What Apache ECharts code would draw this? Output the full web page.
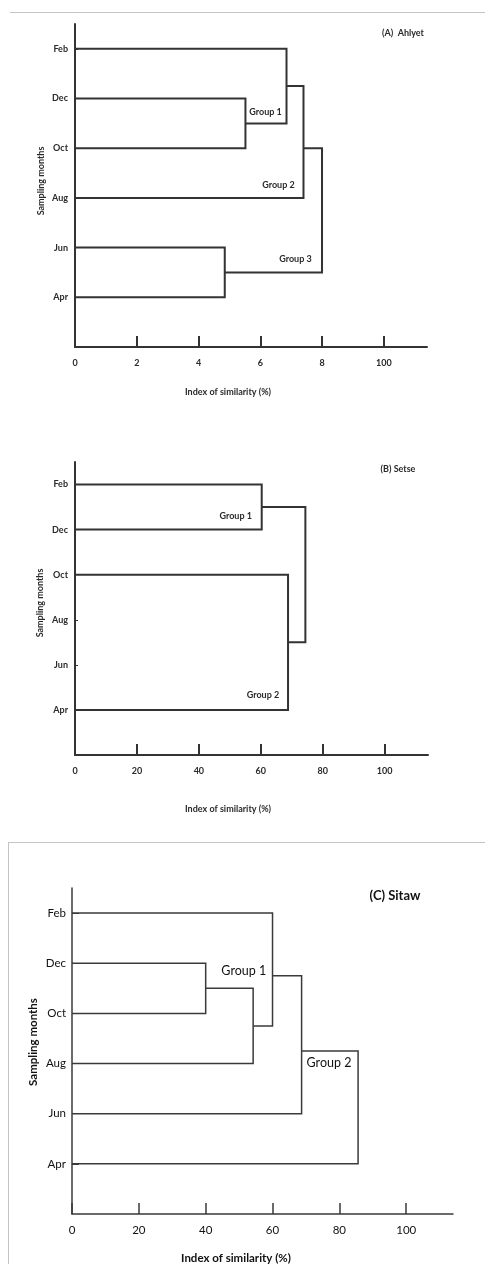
<!DOCTYPE html>
<html>
<head>
<meta charset="utf-8">
<script src="https://cdn.jsdelivr.net/npm/echarts@6/dist/echarts.min.js"></script>
<style>html,body{margin:0;padding:0;background:#fff}#c{width:485px;height:1264px}</style>
</head>
<body>
<div id="c"></div>
<script>
// ---- data ----
const months = ['Feb', 'Dec', 'Oct', 'Aug', 'Jun', 'Apr'];   // top to bottom
const xTicks = [0, 20, 40, 60, 80, 100];
const xTickLabelsA = ['0', '2', '4', '6', '8', '100'];
const xTickLabelsB = ['0', '20', '40', '60', '80', '100'];
const xTickLabelsC = ['0', '20', '40', '60', '80', '100'];
// merges: [childA, childB, similarity (%), node row position]
const mergesA = [
  ['Dec', 'Oct', 55.2, 4.5],
  ['Feb', 'm0', 68.5, 5.25],
  ['m1', 'Aug', 74.0, 4.0],
  ['Jun', 'Apr', 48.5, 1.5],
  ['m2', 'm3', 80.0, 2.75]
];
const mergesB = [
  ['Feb', 'Dec', 60.3, 5.5],
  ['Oct', 'Apr', 68.8, 2.5],
  ['m0', 'm1', 74.4, 4.0]
];
const mergesC = [
  ['Dec', 'Oct', 40.0, 4.5],
  ['m0', 'Aug', 54.2, 3.75],
  ['Feb', 'm1', 60.0, 4.75],
  ['m2', 'Jun', 68.7, 3.25],
  ['m3', 'Apr', 85.6, 2.0]
];
const groupsA = [['Group 1', 61.7, 4.73], ['Group 2', 65.9, 3.25], ['Group 3', 71.4, 1.76]];
const groupsB = [['Group 1', 51.9, 5.29], ['Group 2', 60.7, 1.33]];
const groupsC = [['Group 1', 51.4, 4.84], ['Group 2', 76.9, 3.01]];

// ---- helpers ----
function rowOf(name) { return 6 - months.indexOf(name); }
function buildLinks(merges) {
  const nodes = {};
  months.forEach(m => nodes[m] = { x: 0, y: rowOf(m) });
  const out = [];
  merges.forEach((mg, i) => {
    const a = nodes[mg[0]], b = nodes[mg[1]], h = mg[2];
    out.push({ coords: [[a.x, a.y], [h, a.y], [h, b.y], [b.x, b.y]] });
    nodes['m' + i] = { x: h, y: mg[3] };
  });
  return out;
}

const chart = echarts.init(document.getElementById('c'), null, { renderer: 'canvas' });

const panels = [
  { grid: { left: 75, right: 58, top: 24, bottom: 917 }, labels: xTickLabelsA, merges: mergesA, groups: groupsA, small: true },
  { grid: { left: 75, right: 57, top: 462, bottom: 509 }, labels: xTickLabelsB, merges: mergesB, groups: groupsB, small: true },
  { grid: { left: 72, right: 32, top: 888, bottom: 50 }, labels: xTickLabelsC, merges: mergesC, groups: groupsC, small: false }
];

const grids = [], xAxes = [], yAxes = [], series = [];
panels.forEach((p, i) => {
  const fs = p.small ? 9 : 11.5;
  const fw = p.small ? 'bold' : 'normal';
  const tc = p.small ? '#2a2a2a' : '#111';
  const lc = p.small ? '#333' : '#3a3a3a';
  const lw = p.small ? 2 : 1.5;
  grids.push(p.grid);
  xAxes.push({
    gridIndex: i, type: 'value', min: 0, max: 114,
    axisLine: { show: true, lineStyle: { color: lc, width: lw } },
    axisTick: { show: true, inside: true, length: 11, customValues: xTicks, lineStyle: { color: lc, width: lw } },
    axisLabel: {
      customValues: xTicks, margin: p.small ? 12 : 10,
      formatter: v => p.labels[xTicks.indexOf(v)] || '',
      fontSize: fs, fontWeight: fw, color: tc, fontFamily: 'Lato'
    },
    splitLine: { show: false }
  });
  yAxes.push({
    gridIndex: i, type: 'value', min: 0, max: 6.5,
    axisLine: { show: true, lineStyle: { color: lc, width: lw } },
    axisTick: { show: true, inside: true, length: p.small ? 3 : 7, customValues: [1, 2, 3, 4, 5, 6], lineStyle: { color: lc, width: 1 } },
    axisLabel: {
      customValues: [1, 2, 3, 4, 5, 6], margin: p.small ? 7 : 6,
      formatter: v => months[6 - v] || '',
      fontSize: fs, fontWeight: fw, color: tc, fontFamily: 'Lato'
    },
    splitLine: { show: false }
  });
  series.push({
    type: 'lines', coordinateSystem: 'cartesian2d', xAxisIndex: i, yAxisIndex: i,
    polyline: true, silent: true,
    lineStyle: { color: lc, width: lw, opacity: 1 },
    data: buildLinks(p.merges)
  });
  series.push({
    type: 'scatter', xAxisIndex: i, yAxisIndex: i, symbolSize: 0, silent: true,
    itemStyle: { opacity: 1 },
    data: p.groups.map(g => ({ value: [g[1], g[2]], name: g[0] })),
    label: {
      show: true, position: 'inside', formatter: d => d.name, opacity: 1,
      fontSize: p.small ? 9 : 12.5, fontWeight: p.small ? 'bold' : 'normal',
      color: tc, fontFamily: 'Lato', textBorderWidth: 0
    }
  });
});

function txt(t, x, y, size, weight, rot, col) {
  return {
    type: 'text', x: x, y: y, rotation: rot || 0,
    style: { text: t, fill: col || '#2a2a2a', font: weight + ' ' + size + 'px Lato', textAlign: 'center', textVerticalAlign: 'middle' }
  };
}

chart.setOption({
  backgroundColor: '#fff',
  animation: false,
  grid: grids, xAxis: xAxes, yAxis: yAxes, series: series,
  graphic: [
    { type: 'line', shape: { x1: 10, y1: 12.5, x2: 485, y2: 12.5 }, style: { stroke: '#c4c4c4', lineWidth: 1 } },
    { type: 'line', shape: { x1: 8, y1: 842.5, x2: 485, y2: 842.5 }, style: { stroke: '#c4c4c4', lineWidth: 1 } },
    { type: 'line', shape: { x1: 8.5, y1: 842, x2: 8.5, y2: 1264 }, style: { stroke: '#c4c4c4', lineWidth: 1 } },
    txt('(A)  Ahlyet', 403, 33, 9, 'bold'),
    txt('(B) Setse', 398, 469, 9, 'bold'),
    txt('(C) Sitaw', 395, 896, 13, 'bold', 0, '#111'),
    txt('Index of similarity (%)', 228, 392, 9, 'bold'),
    txt('Index of similarity (%)', 228, 809, 9, 'bold'),
    txt('Index of similarity (%)', 236, 1258, 11.5, 'bold', 0, '#111'),
    txt('Sampling months', 41, 181, 9, 'bold', Math.PI / 2),
    txt('Sampling months', 40, 603, 9, 'bold', Math.PI / 2),
    txt('Sampling months', 33, 1042, 11.5, 'bold', Math.PI / 2, '#111')
  ]
});
</script>
</body>
</html>
